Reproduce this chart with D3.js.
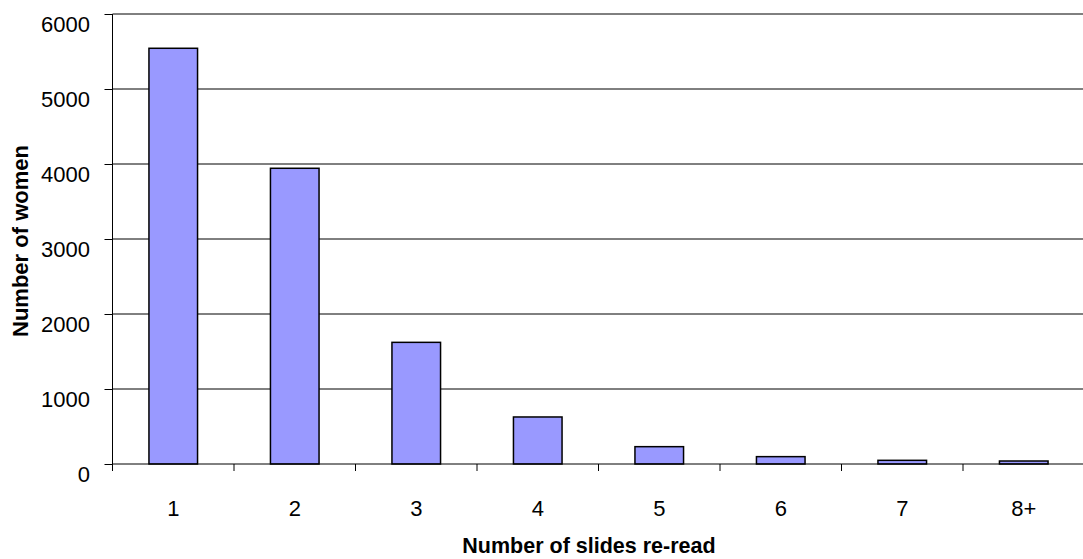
<!DOCTYPE html>
<html>
<head>
<meta charset="utf-8">
<script src="https://cdn.jsdelivr.net/npm/d3@7"></script>
<style>
  html, body { margin: 0; padding: 0; background: #fff; }
  svg { display: block; font-family: Arial, "Liberation Sans", sans-serif; }
</style>
</head>
<body>
<svg id="chart" width="1083" height="559"></svg>
<script>
const categories = ["1", "2", "3", "4", "5", "6", "7", "8+"];
const values = [5543, 3943, 1622, 627, 231, 98, 49, 40];
const yTicks = [0, 1000, 2000, 3000, 4000, 5000, 6000];
const xTitle = "Number of slides re-read";
const yTitle = "Number of women";

const svg = d3.select("#chart");
const pLeft = 112.5, pRight = 1084.5, pTop = 14, pBottom = 464;
const FONT = "Arial, 'Liberation Sans', sans-serif";

const x = d3.scaleBand().domain(categories).range([pLeft, pRight]).paddingInner(0.6).paddingOuter(0.3);
const xb = d3.scaleBand().domain(categories).range([pLeft, pRight]);
const y = d3.scaleLinear().domain([0, 6000]).range([pBottom, pTop]);

// gridlines
svg.append("g").selectAll("line").data(yTicks.filter(d => d > 0)).join("line")
  .attr("x1", pLeft).attr("x2", 1083)
  .attr("y1", d => y(d)).attr("y2", d => y(d))
  .attr("stroke", "#000").attr("stroke-width", 1);

// bars
svg.append("g").selectAll("rect").data(values).join("rect")
  .attr("x", (d, i) => x(categories[i]))
  .attr("width", x.bandwidth())
  .attr("y", d => y(d))
  .attr("height", d => y(0) - y(d))
  .attr("fill", "#9999FF")
  .attr("stroke", "#000")
  .attr("stroke-width", 1.5);

// y axis
const yAxis = d3.axisLeft(y).tickValues(yTicks).tickSize(8).tickPadding(14.5).tickFormat(d3.format("d"));
const gy = svg.append("g").attr("transform", `translate(${pLeft},0)`).call(yAxis);
gy.attr("font-size", null).attr("font-family", null);
gy.select(".domain").attr("stroke", "#000").attr("d", `M0,${pTop}V${pBottom}`);
gy.selectAll(".tick line").attr("stroke", "#000");
gy.selectAll("text").attr("font-size", 22).attr("fill", "#000").attr("font-family", FONT)
  .attr("dy", null).attr("y", 17.5);

// x axis
const gx = svg.append("g").attr("transform", `translate(0,${pBottom})`);
gx.append("line").attr("x1", pLeft).attr("x2", 1083).attr("y1", 0).attr("y2", 0).attr("stroke", "#000");
const bounds = categories.map(c => xb(c)).concat([pRight]);
gx.selectAll(".tk").data(bounds).join("line")
  .attr("x1", d => d).attr("x2", d => d).attr("y1", 0).attr("y2", 7).attr("stroke", "#000");
gx.selectAll(".lbl").data(categories).join("text")
  .attr("x", d => xb(d) + xb.bandwidth() / 2)
  .attr("y", 52)
  .attr("text-anchor", "middle")
  .attr("font-size", 22)
  .attr("font-family", FONT)
  .text(d => d);

// titles
svg.append("text").attr("x", 589).attr("y", 553).attr("text-anchor", "middle")
  .attr("font-size", 21.5).attr("font-weight", "bold").attr("font-family", FONT).text(xTitle);
svg.append("text").attr("transform", "translate(28,241) rotate(-90)").attr("text-anchor", "middle")
  .attr("font-size", 22).attr("font-weight", "bold").attr("font-family", FONT).text(yTitle);
</script>
</body>
</html>
